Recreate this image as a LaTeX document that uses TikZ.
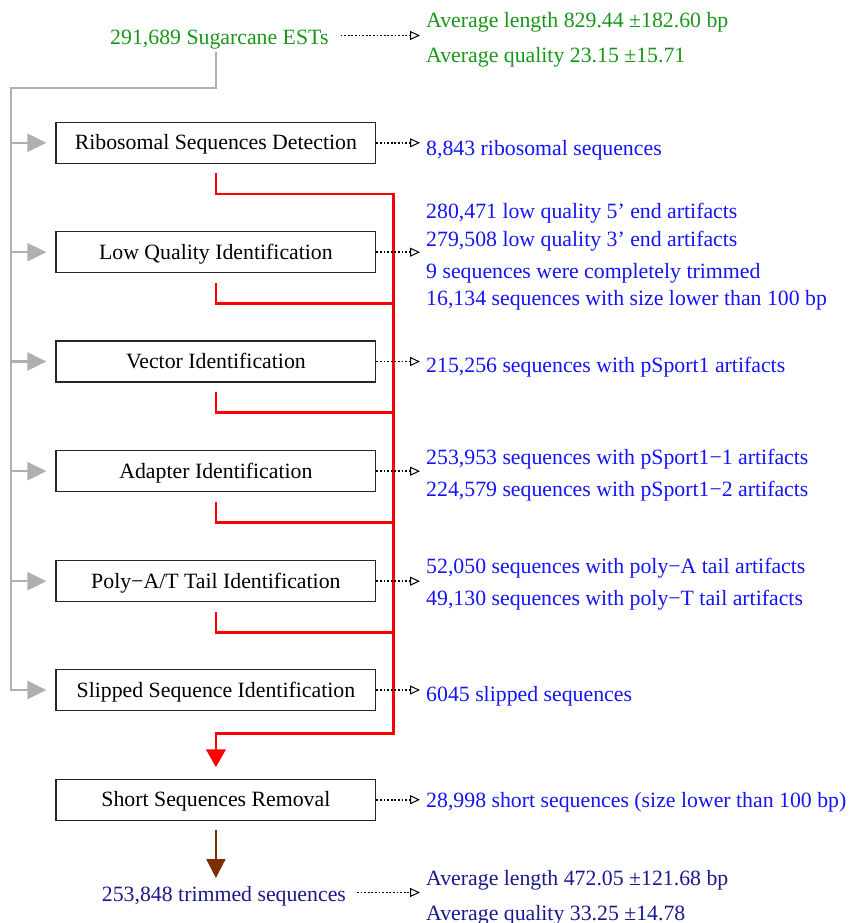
\documentclass[tikz,border=0pt]{standalone}
\usepackage{fontspec}
\setmainfont{Liberation Serif}
\usetikzlibrary{arrows.meta}

\definecolor{estgreen}{RGB}{25,150,25}
\definecolor{infoblue}{RGB}{20,20,245}
\definecolor{finalnavy}{RGB}{25,25,140}
\definecolor{flowred}{RGB}{255,0,0}
\definecolor{flowgray}{RGB}{175,175,175}
\definecolor{flowbrown}{RGB}{125,45,0}

\begin{document}
\begin{tikzpicture}[x=1pt,y=-1pt,
  every node/.style={font=\fontsize{21.8}{26}\selectfont},
  stepbox/.style={draw=black!85, line width=1.3pt, minimum width=319.7pt,
    minimum height=41pt, inner sep=0pt, text height=16pt, text depth=2pt},
  info/.style={anchor=base west, inner sep=0pt, text=infoblue},
  graytrunk/.style={draw=flowgray, line width=2.3pt},
  grayarrow/.style={graytrunk, -{Triangle[length=19pt,width=18pt]}},
  redline/.style={draw=flowred, line width=2.7pt},
  redarrow/.style={redline, -{Triangle[length=18pt,width=19.5pt]}},
  brownarrow/.style={draw=flowbrown, line width=2pt,
    -{Triangle[length=19pt,width=19pt]}},
  dotarrow/.style={draw=black, line width=1.8pt, dash pattern=on 1.8pt off 1.8pt,
    -{Triangle[open,length=10pt,width=9pt,line width=1pt]}},
]
\useasboundingbox (0,0) rectangle (849,923);

% input set and its statistics
\node[anchor=base west, inner sep=0pt, text=estgreen] (src) at (110,45) {291,689 Sugarcane ESTs};
\node[info, text=estgreen] (avg1) at (426,27.5) {Average length 829.44 ±182.60 bp};
\node[info, text=estgreen] (avg2) at (426,63) {Average quality 23.15 ±15.71};

% processing steps
\node[stepbox] (b1) at (215.9,142.8) {Ribosomal Sequences Detection};
\node[stepbox] (b2) at (215.9,252.2) {Low Quality Identification};
\node[stepbox] (b3) at (215.9,361.5) {Vector Identification};
\node[stepbox] (b4) at (215.9,471.2) {Adapter Identification};
\node[stepbox] (b5) at (215.9,581.2) {Poly−A/T Tail Identification};
\node[stepbox] (b6) at (215.9,690) {Slipped Sequence Identification};
\node[stepbox] (b7) at (215.9,799.7) {Short Sequences Removal};

% results of each step
\node[info] (r1) at (426,155) {8,843 ribosomal sequences};
\node[info] (r2a) at (426,218.3) {280,471 low quality 5’ end artifacts};
\node[info] (r2b) at (426,246) {279,508 low quality 3’ end artifacts};
\node[info] (r2c) at (426,278.3) {9 sequences were completely trimmed};
\node[info] (r2d) at (426,305) {16,134 sequences with size lower than 100 bp};
\node[info] (r3) at (426,372.5) {215,256 sequences with pSport1 artifacts};
\node[info] (r4a) at (426,464.5) {253,953 sequences with pSport1−1 artifacts};
\node[info] (r4b) at (426,496.5) {224,579 sequences with pSport1−2 artifacts};
\node[info] (r5a) at (426,573.5) {52,050 sequences with poly−A tail artifacts};
\node[info] (r5b) at (426,605.5) {49,130 sequences with poly−T tail artifacts};
\node[info] (r6) at (426,701.5) {6045 slipped sequences};
\node[info] (r7) at (426,807) {28,998 short sequences (size lower than 100 bp)};

% final set and its statistics
\node[anchor=base west, inner sep=0pt, text=finalnavy] (trim) at (101.7,901.7) {253,848 trimmed sequences};
\node[info, text=finalnavy] (fin1) at (426,885) {Average length 472.05 ±121.68 bp};
\node[info, text=finalnavy] (fin2) at (426,920) {Average quality 33.25 ±14.78};

% helper points
\coordinate (gtop) at (11,87.7);
\coordinate (bus) at (393.3,193.3);
\coordinate (redturn) at (393.3,733.7);
\coordinate (srcdot) at (420,35.5);
\coordinate (trimdot) at (420,892.5);
\coordinate (browntip) at (215.9,878);

% gray distribution of the input to every step
\draw[grayarrow] ([yshift=-2pt]src.south -| b1.north) |- (gtop) -- (gtop |- b6.west) -- ([xshift=-9pt]b6.west);
\foreach \b in {b1,b2,b3,b4,b5}
  \draw[grayarrow] (gtop |- \b.west) -- ([xshift=-9pt]\b.west);

% red collection of step outputs
\foreach \b in {b1,b2,b3,b4,b5}
  \draw[redline] ([yshift=-9.5pt]\b.south) |- ([yshift=-30pt]\b.south -| bus);
\draw[redarrow] (bus) -- (redturn) -| ([yshift=11.3pt]b7.north);

% brown final arrow
\draw[brownarrow] ([yshift=-9.5pt]b7.south) -- (browntip);

% dotted result arrows
\draw[dotarrow] ([xshift=12pt]src.east |- srcdot) -- (srcdot);
\draw[dotarrow] (b1.east) -- ([xshift=-6pt]b1.east -| r1.west);
\draw[dotarrow] (b2.east) -- ([xshift=-6pt]b2.east -| r2a.west);
\draw[dotarrow] (b3.east) -- ([xshift=-6pt]b3.east -| r3.west);
\draw[dotarrow] (b4.east) -- ([xshift=-6pt]b4.east -| r4a.west);
\draw[dotarrow] (b5.east) -- ([xshift=-6pt]b5.east -| r5a.west);
\draw[dotarrow] (b6.east) -- ([xshift=-6pt]b6.east -| r6.west);
\draw[dotarrow] (b7.east) -- ([xshift=-6pt]b7.east -| r7.west);
\draw[dotarrow] ([xshift=11pt]trim.east |- trimdot) -- (trimdot);
\end{tikzpicture}
\end{document}
